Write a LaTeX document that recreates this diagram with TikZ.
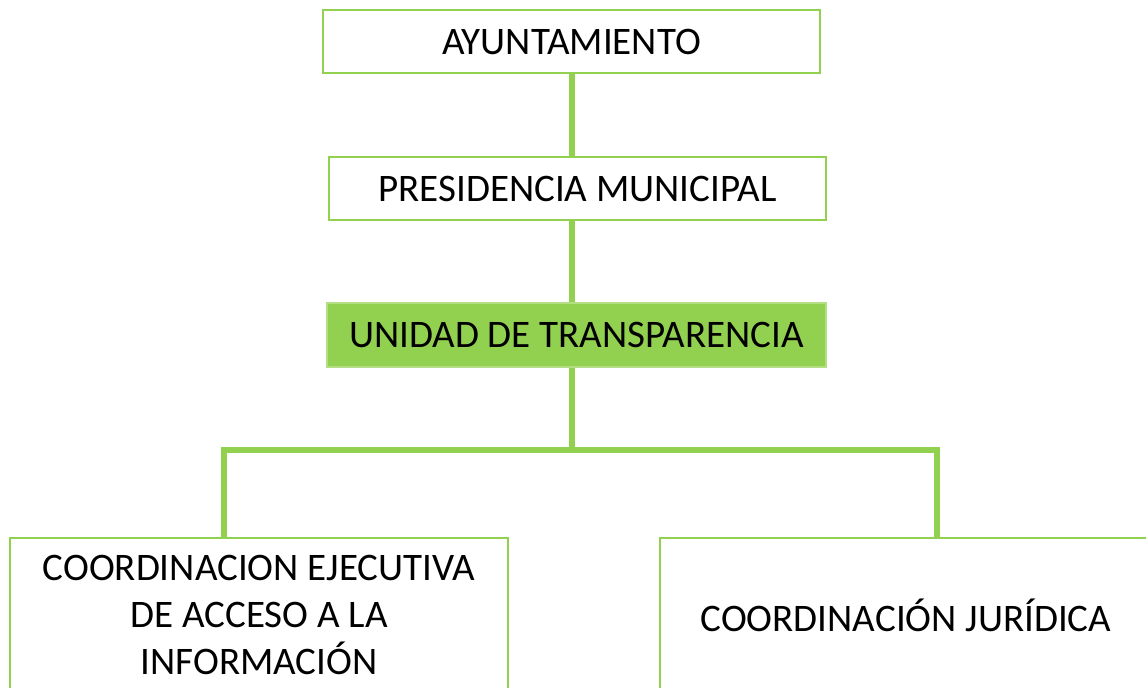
\documentclass[tikz,border=0pt]{standalone}
\usepackage{fontspec}
\setmainfont{Carlito}
\usetikzlibrary{positioning}

\definecolor{orggreen}{HTML}{92D050}

\tikzset{
  unitbox/.style={draw=orggreen, line width=1pt, fill=white, inner sep=0pt,
    font=\fontsize{19.5}{23.3}\selectfont, align=center},
  link/.style={draw=orggreen, line width=2.6pt}
}

\begin{document}
\begin{tikzpicture}[x=0.5pt, y=-0.5pt]

    % canvas
    \useasboundingbox (0,0) rectangle (1146,688);
    \clip (0,0) rectangle (1146,688);

    % units
    \node[unitbox, minimum width=248.5pt, minimum height=31.5pt] (ayun) at (571.5,41.5) {AYUNTAMIENTO};
    \node[unitbox, minimum width=248.5pt, minimum height=31.5pt] (pres) at (577.5,188.5) {PRESIDENCIA MUNICIPAL};
    \node[unitbox, fill=orggreen, draw=orggreen!70, minimum width=249.5pt, minimum height=32pt] (unidad) at (576.5,335) {UNIDAD DE TRANSPARENCIA};
    \node[unitbox, minimum width=249pt, minimum height=77pt] (coordej) at (259,615) {COORDINACION EJECUTIVA\\DE ACCESO A LA\\INFORMACIÓN};
    \node[unitbox, minimum width=246pt, minimum height=77pt] (coordjur) at (906,615) {COORDINACIÓN JURÍDICA};

    % branch points
    \coordinate (split) at (572,450);
    \coordinate (lj) at (224,450);
    \coordinate (rj) at (937,450);

    % connectors
    \draw[link] (ayun.south -| split) -- (pres.north -| split);
    \draw[link] (pres.south -| split) -- (unidad.north -| split);
    \draw[link] (unidad.south -| split) -- (split);
    \draw[link] (coordej.north -| lj) -- (lj) -- (rj) -- (coordjur.north -| rj);

\end{tikzpicture}
\end{document}
